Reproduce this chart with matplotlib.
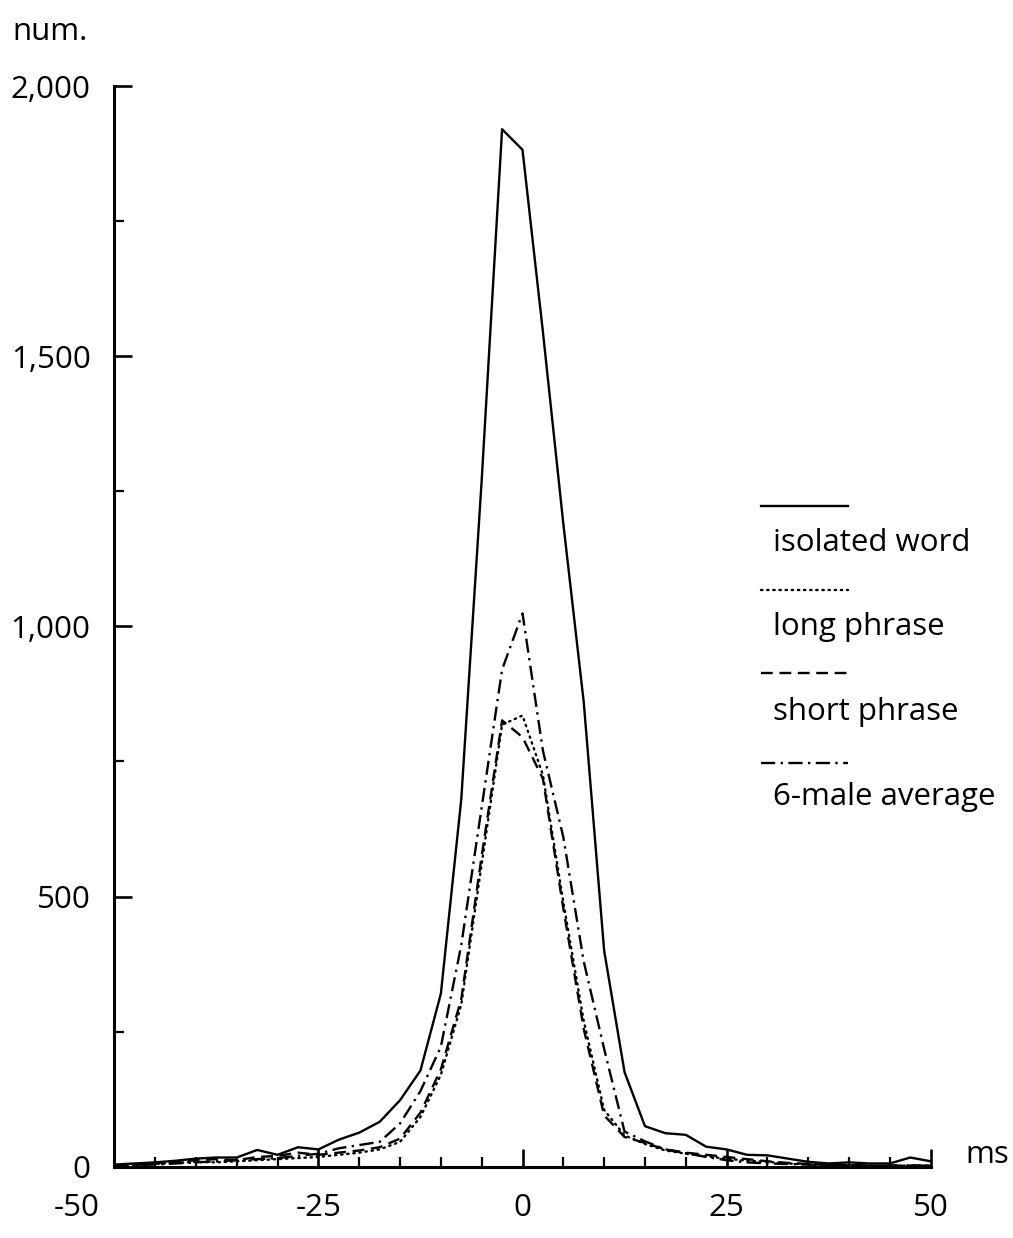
import matplotlib
matplotlib.use("Agg")
import matplotlib.pyplot as plt
from matplotlib.lines import Line2D
from matplotlib.transforms import ScaledTranslation

plt.rcParams['font.family'] = ['Open Sans', 'DejaVu Sans']

ms = [-50, -47.5, -45, -42.5, -40, -37.5, -35, -32.5, -30, -27.5, -25, -22.5, -20,
      -17.5, -15, -12.5, -10, -7.5, -5, -2.5, 0, 2.5, 5, 7.5, 10, 12.5, 15, 17.5,
      20, 22.5, 25, 27.5, 30, 32.5, 35, 37.5, 40, 42.5, 45, 47.5, 50]

isolated_word = [4, 6, 8, 11, 15, 17, 17, 31, 22, 36, 32, 50, 63, 83, 123, 178, 320,
                 680, 1270, 1920, 1882, 1545, 1190, 860, 400, 175, 75, 62, 59, 37, 32,
                 22, 21, 15, 9, 6, 8, 6, 6, 17, 10]
long_phrase = [3, 4, 5, 7, 9, 8, 10, 12, 14, 16, 18, 22, 26, 32, 46, 92, 170, 300, 560,
               818, 835, 725, 490, 270, 105, 58, 42, 30, 24, 19, 15, 11, 9, 6, 4, 3, 3,
               2, 2, 2, 2]
short_phrase = [2, 3, 6, 9, 12, 14, 12, 18, 20, 26, 22, 26, 30, 36, 52, 100, 180, 310,
                575, 826, 795, 718, 478, 255, 95, 55, 44, 32, 26, 22, 18, 14, 10, 7, 5,
                3, 3, 2, 2, 2, 2]
male_average = [2, 3, 4, 6, 8, 10, 12, 14, 16, 20, 24, 34, 40, 46, 80, 140, 222, 410,
                665, 920, 1024, 770, 610, 380, 218, 65, 47, 32, 25, 18, 12, 8, 6, 5, 4,
                3, 3, 2, 2, 2, 2]

series_labels = ["isolated word", "long phrase", "short phrase", "6-male average"]
x_major = [-50, -25, 0, 25, 50]
x_major_labels = ["-50", "-25", "0", "25", "50"]
y_major = [0, 500, 1000, 1500, 2000]
y_major_labels = ["0", "500", "1,000", "1,500", "2,000"]

W, H = 1013, 1238
fs = 22.5
fig = plt.figure(figsize=(W / 100, H / 100), dpi=100)
ax = fig.add_axes([114.3 / W, (H - 1166.7) / H, 816.4 / W, (1166.7 - 86) / H])

styles = [
    dict(linestyle='-'),
    dict(linestyle=(0, (0.6, 2.0)), dash_capstyle='round'),
    dict(linestyle=(0, (5, 2.8))),
    dict(linestyle=(0, (6, 2.3, 1, 2.3))),
]
series = [isolated_word, long_phrase, short_phrase, male_average]
lw = 1.7
for s, st in zip(series, styles):
    ax.plot(ms, s, color='black', linewidth=lw, **st)

ax.set_xlim(-50, 50)
ax.set_ylim(0, 2000)
for side in ['top', 'right']:
    ax.spines[side].set_visible(False)
for side in ['left', 'bottom']:
    ax.spines[side].set_linewidth(2.2)

ax.set_xticks(x_major)
ax.set_xticklabels(x_major_labels)
ax.set_xticks(range(-45, 50, 5), minor=True)
ax.set_yticks(y_major)
ax.set_yticklabels(y_major_labels)
ax.set_yticks(range(250, 2000, 500), minor=True)
ax.tick_params(axis='both', which='major', direction='in', length=13, width=1.9,
               labelsize=fs)
ax.tick_params(axis='both', which='minor', direction='in', length=7, width=1.6)
ax.tick_params(axis='x', which='major', pad=19)
ax.tick_params(axis='y', which='major', pad=17)

# the leftmost x label sits left of its tick in the original
first = ax.get_xticklabels()[0]
first.set_transform(first.get_transform() + ScaledTranslation(-0.38, 0, fig.dpi_scale_trans))

fig.text(12 / W, 1 - 32 / H, "num.", fontsize=fs, ha='left', va='center')
fig.text(965 / W, 1 - 1155 / H, "ms", fontsize=fs, ha='left', va='center')

# legend: line sample above each label
sample_y = [506, 590, 673, 763]
label_y = [543, 627, 712, 797]
for st, label, sy, ly in zip(styles, series_labels, sample_y, label_y):
    fig.add_artist(Line2D([761 / W, 848 / W], [1 - sy / H, 1 - sy / H],
                          transform=fig.transFigure, color='black', linewidth=lw, **st))
    fig.text(773 / W, 1 - ly / H, label, fontsize=fs, ha='left', va='center')

fig.savefig("out.png", dpi=100)
